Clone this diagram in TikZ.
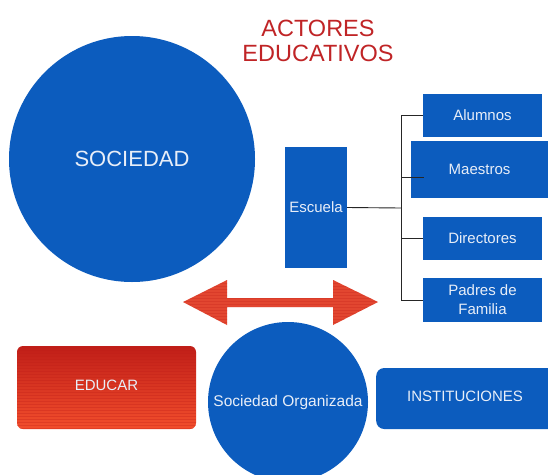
\documentclass[tikz,border=0pt]{standalone}
\usepackage{fontspec}
\setmainfont{Liberation Sans}
\definecolor{blu}{RGB}{12,92,190}
\definecolor{txtw}{RGB}{232,238,248}
\definecolor{ttl}{RGB}{192,36,38}
\definecolor{redtop}{RGB}{192,30,24}
\definecolor{redbot}{RGB}{242,78,44}
\definecolor{arrowred}{RGB}{226,70,48}
\begin{document}
\begin{tikzpicture}[x=1pt,y=-1pt,
  bluebox/.style={fill=blu,draw=none,text=txtw,font=\fontsize{15}{19}\selectfont,inner sep=0pt,align=center},
  bluecirc/.style={circle,fill=blu,draw=none,text=txtw,inner sep=0pt},
  conn/.style={draw=black!85,line width=0.9pt}]
\useasboundingbox (0,0) rectangle (548,474);
\fill[white] (0,0) rectangle (548,474);

% title
\node[text=ttl,font=\fontsize{23.5}{25}\selectfont,align=center] (title) at (318,41) {ACTORES\\EDUCATIVOS};

% big circle
\node[bluecirc,minimum size=246pt,font=\fontsize{22}{26}\selectfont] (sociedad) at (132,159) {SOCIEDAD};

% escuela
\node[bluebox,minimum width=62pt,minimum height=121pt] (escuela) at (316,207.5) {Escuela};

% right boxes
\node[bluebox,minimum width=119pt,minimum height=43pt] (alumnos) at (482.5,115.5) {Alumnos};
\node[bluebox,minimum width=137pt,minimum height=57pt] (maestros) at (479.5,169.5) {Maestros};
\node[bluebox,minimum width=119pt,minimum height=43pt] (directores) at (482.5,238.5) {Directores};
\node[bluebox,minimum width=119pt,minimum height=44pt] (padres) at (482.5,300) {Padres de\\Familia};

% connectors
\coordinate (j) at (401,208);
\draw[conn] (escuela.east) -- (j);
\draw[conn] (alumnos.west) -- (alumnos.west -| j) -- (padres.west -| j) -- (padres.west);
\draw[conn] (j |- 0,177) -- ([xshift=13pt]maestros.west |- 0,177);
\draw[conn] (directores.west -| j) -- (directores.west);

% double arrow
\path[fill=arrowred] (183,302) -- (227,280) -- (227,298) -- (333,298) -- (333,280) -- (378,302)
  -- (333,325) -- (333,307) -- (227,307) -- (227,325) -- cycle;
\begin{scope}
\clip (183,302) -- (227,280) -- (227,298) -- (333,298) -- (333,280) -- (378,302)
  -- (333,325) -- (333,307) -- (227,307) -- (227,325) -- cycle;
\foreach \yy in {280,283,...,326} \draw[redtop,opacity=0.25,line width=0.6pt] (180,\yy) -- (380,\yy);
\end{scope}

% educar box
\node[rounded corners=6pt,minimum width=179pt,minimum height=83pt,top color=redtop,bottom color=redbot,draw=none,
  text=txtw,font=\fontsize{15}{19}\selectfont,inner sep=0pt] (educar) at (106.5,387.5) {};
\begin{scope}
\clip[rounded corners=6pt] (educar.south west) rectangle (educar.north east);
\foreach \yy in {347,350,...,430} \draw[redtop,opacity=0.3,line width=0.6pt] (17,\yy) -- (196,\yy);
\end{scope}
\node[text=txtw,font=\fontsize{15}{19}\selectfont] (educartxt) at (106.5,385) {EDUCAR};

% sociedad organizada
\node[bluecirc,minimum size=160pt,font=\fontsize{15.5}{19}\selectfont] (sorg) at (288,402) {Sociedad Organizada};

% instituciones
\node[bluebox,rounded corners=8pt,minimum width=186pt,minimum height=61pt,anchor=west] (inst) at (376,398.5) {};
\node[text=txtw,font=\fontsize{15}{19}\selectfont] (insttxt) at (465,396) {INSTITUCIONES};
\end{tikzpicture}
\end{document}
